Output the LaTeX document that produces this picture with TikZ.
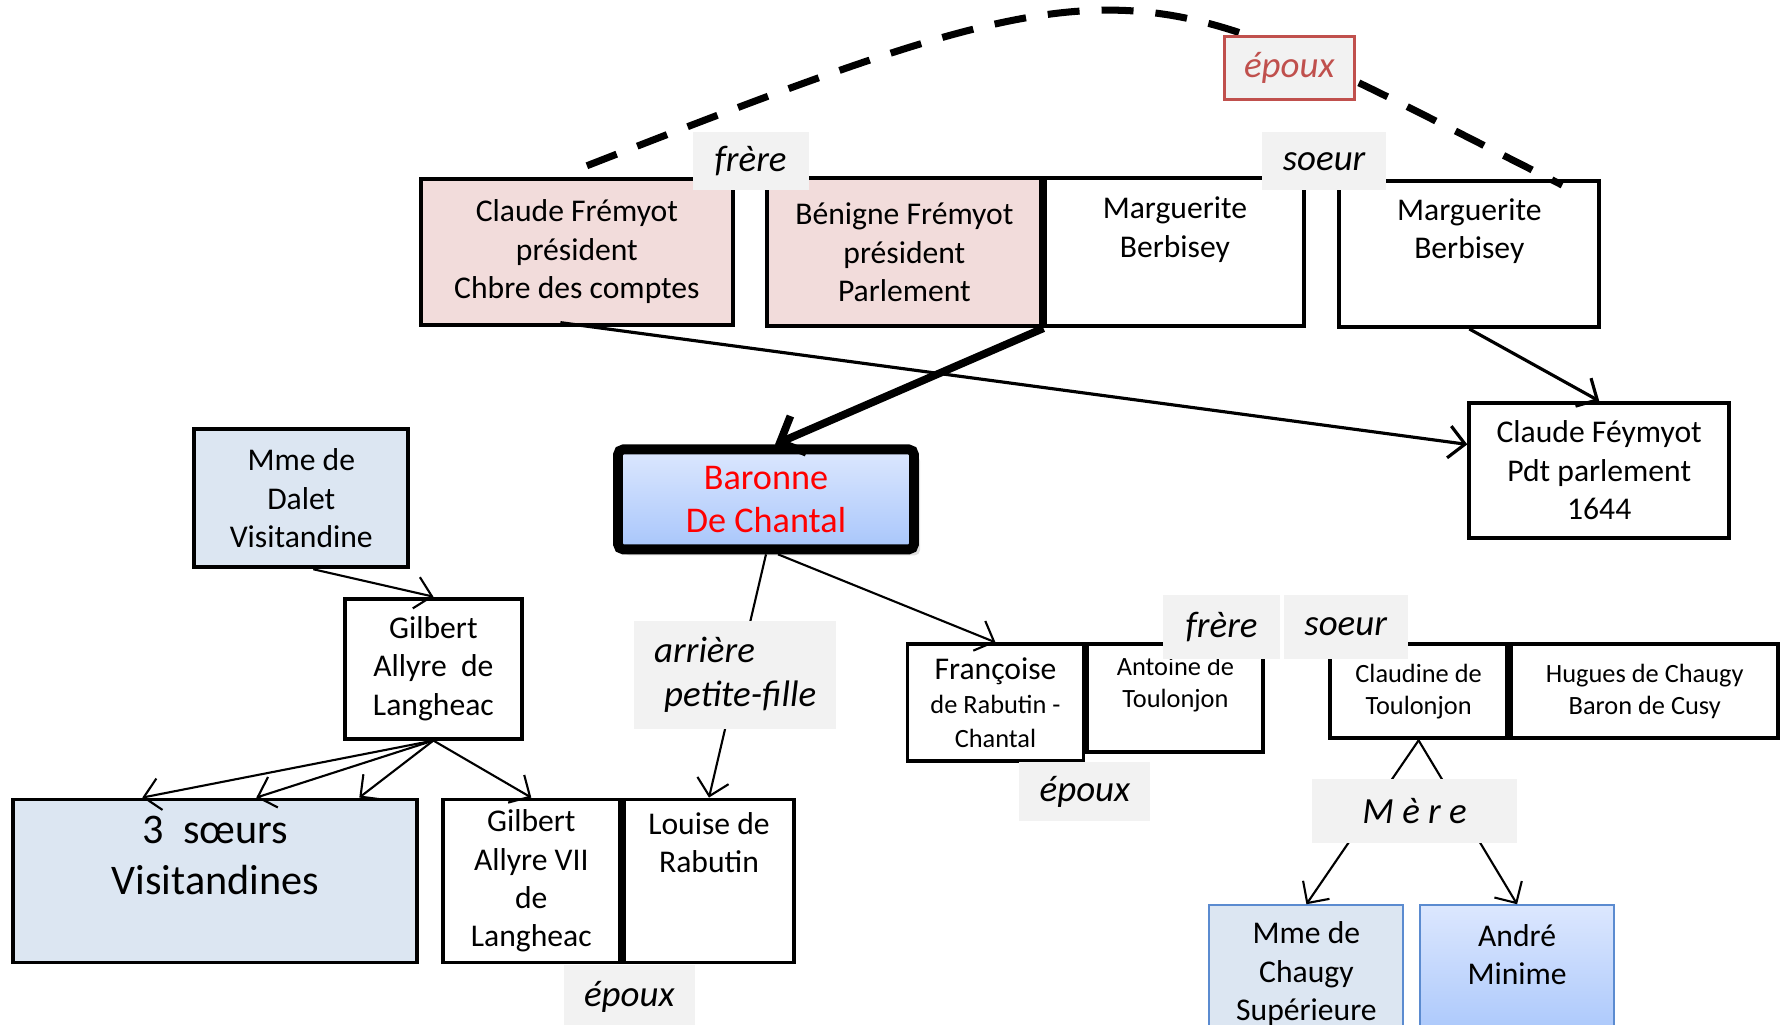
\documentclass[tikz,border=0pt]{standalone}
\usepackage{fontspec}
\setmainfont{Carlito}
\usetikzlibrary{arrows.meta,shadows}

\definecolor{rosefill}{HTML}{F2DCDB}
\definecolor{bluefill}{HTML}{DCE6F2}
\definecolor{taggray}{HTML}{F2F2F2}
\definecolor{epouxred}{HTML}{C0504D}
\definecolor{gradtop}{HTML}{DCE7FE}
\definecolor{gradbot}{HTML}{A8C6FB}
\definecolor{edgeblue}{HTML}{5B8BD0}
\newcommand{\smallf}{\fontsize{7.5}{9.1}\selectfont}

\begin{document}
\begin{tikzpicture}[
    >={Straight Barb[length=1.6mm,width=3.2mm]},
    person/.style={draw, line width=1.1pt, align=center, inner sep=1pt, font=\fontsize{9}{10.9}\selectfont},
    smalltext/.style={font=\smallf},
    tag/.style={fill=taggray, inner sep=0pt, font=\itshape\fontsize{10.5}{12.6}\selectfont},
    link/.style={->, line width=0.6pt}
]
\useasboundingbox (0,0) rectangle (17.86,-10.24);

% Frémyot and Berbisey
\node[person, fill=rosefill, minimum width=3.12cm, minimum height=1.46cm] (claude) at (5.769,-2.517) {Claude Frémyot\\président\\Chbre des comptes};
\node[person, fill=rosefill, minimum width=2.74cm, minimum height=1.48cm] (benigne) at (9.044,-2.523) {Bénigne Frémyot\\président\\Parlement};
\node[person, minimum width=2.59cm, minimum height=1.48cm] (marg1) at (11.749,-2.523) {Marguerite\\Berbisey\\[1.2mm]~};
\node[person, minimum width=2.60cm, minimum height=1.46cm] (marg2) at (14.693,-2.540) {Marguerite\\Berbisey\\[1.2mm]~};
\node[person, minimum width=2.60cm, minimum height=1.35cm] (feymyot) at (15.992,-4.704) {Claude Féymyot\\Pdt parlement\\1644};

% Baronne
\node[person, line width=2.8pt, rounded corners=1.5pt, top color=gradtop, bottom color=gradbot, text=red,
      font=\fontsize{10.3}{12.4}\selectfont, drop shadow={opacity=0.25, shadow xshift=0.6mm, shadow yshift=-0.6mm},
      minimum width=2.96cm, minimum height=1.0cm] (baronne) at (7.660,-4.994) {Baronne\\De Chantal};

% Langheac side
\node[person, fill=bluefill, minimum width=2.14cm, minimum height=1.38cm] (dalet) at (3.013,-4.983) {Mme de\\Dalet\\Visitandine};
\node[person, minimum width=1.77cm, minimum height=1.40cm] (gilbert) at (4.334,-6.686) {Gilbert\\Allyre~~de\\Langheac};
\node[person, fill=bluefill, font=\fontsize{12}{14.6}\selectfont, minimum width=4.04cm, minimum height=1.63cm] (soeurs) at (2.153,-8.810) {3~~sœurs\\Visitandines\\~};
\node[person, minimum width=1.77cm, minimum height=1.63cm] (gilbert7) at (5.313,-8.810) {Gilbert\\Allyre VII\\de\\Langheac};
\node[person, minimum width=1.70cm, minimum height=1.63cm] (louise) at (7.090,-8.810) {Louise de\\Rabutin\\~\\~};

% Toulonjon side
\node[person, font=\fontsize{7.5}{9.6}\selectfont, minimum width=1.76cm, minimum height=1.17cm] (francoise) at (9.955,-7.028) {{\fontsize{9}{9.6}\selectfont Françoise}\\de Rabutin -\\Chantal};
\node[person, smalltext, minimum width=1.76cm, minimum height=1.08cm] (antoine) at (11.754,-6.982) {Antoine de\\Toulonjon\\~};
\node[person, smalltext, minimum width=1.77cm, minimum height=0.94cm] (claudine) at (14.186,-6.914) {Claudine de\\Toulonjon};
\node[person, smalltext, minimum width=2.67cm, minimum height=0.94cm] (hugues) at (16.447,-6.914) {Hugues de Chaugy\\Baron de Cusy};
\node[person, line width=0.6pt, draw=edgeblue, fill=bluefill, minimum width=1.94cm, minimum height=1.37cm] (chaugy) at (13.064,-9.738) {Mme de\\Chaugy\\Supérieure};
\node[person, line width=0.6pt, draw=edgeblue, top color=gradtop, bottom color=gradbot, minimum width=1.94cm, minimum height=1.37cm] (andre) at (15.171,-9.738) {André\\Minime\\~};

% Links
\draw[line width=2pt, dash pattern=on 3.2mm off 2.2mm] ([shift={(1mm,1.1mm)}]claude.north) .. controls (11.572,0.570) and (11.299,0.319) .. ([shift={(-3.9mm,-0.6mm)}]marg2.north east);
\draw[link, line width=0.9pt] ([shift={(-1.65mm,0.4mm)}]claude.south) -- ([yshift=2.6mm]feymyot.west);
\draw[->, line width=2.2pt, >={Straight Barb[length=2mm,width=4mm]}] (marg1.south west) -- ([xshift=0.9mm]baronne.north);
\draw[link, line width=0.9pt] (marg2.south) -- (feymyot.north);
\draw[link] (baronne.south) -- (louise.north);
\draw[link] ([xshift=1.2mm]baronne.south) -- (francoise.north);
\draw[link] ([xshift=1.2mm]dalet.south) -- (gilbert.north);
\foreach \dx in {-7.3mm,4.1mm,14.4mm}
    \draw[link] (gilbert.south) -- ([xshift=\dx]soeurs.north);
\draw[link] (gilbert.south) -- (gilbert7.north);
\draw[link] (claudine.south) -- (chaugy.north);
\draw[link] (claudine.south) -- (andre.north);

% Tags
\node[tag, minimum width=1.16cm, minimum height=0.58cm] (frere1) at (7.506,-1.612) {frère};
\node[tag, minimum width=1.24cm, minimum height=0.58cm] (soeur1) at (13.241,-1.612) {soeur};
\node[tag, draw=epouxred, line width=0.8pt, text=epouxred, minimum width=1.30cm, minimum height=0.63cm] (epoux1) at (12.893,-0.678) {époux};
\node[tag, align=left, minimum width=2.02cm, minimum height=1.08cm] (arriere) at (7.352,-6.749) {arrière\\\hspace{1mm}petite-fille};
\node[tag, minimum width=1.17cm, minimum height=0.64cm] (frere2) at (12.216,-6.265) {frère};
\node[tag, minimum width=1.24cm, minimum height=0.64cm] (soeur2) at (13.457,-6.265) {soeur};
\node[tag, minimum width=1.31cm, minimum height=0.59cm] (epoux2) at (10.849,-7.916) {époux};
\node[tag, minimum width=2.05cm, minimum height=0.64cm] (mere) at (14.146,-8.110) {M è r e};
\node[tag, minimum width=1.31cm, minimum height=0.64cm] (epoux3) at (6.293,-9.966) {époux};
\end{tikzpicture}
\end{document}
